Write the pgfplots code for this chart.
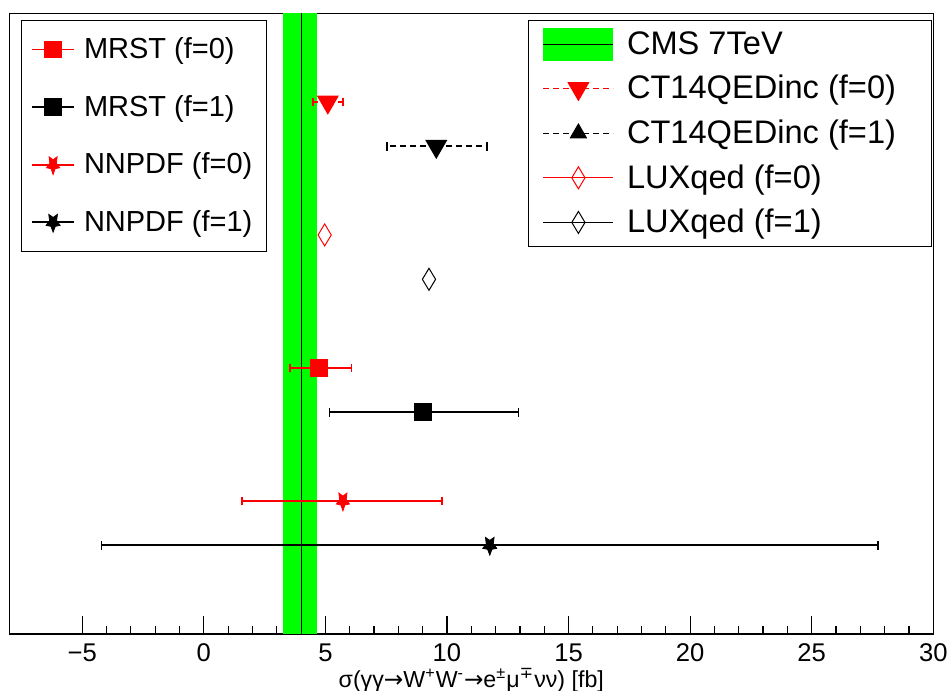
\documentclass[border=0pt]{standalone}
\usepackage{pgfplots}
\pgfplotsset{compat=1.18}
\usepackage{fontspec}
\setmainfont{Liberation Sans}
\newfontfamily\dejavu{DejaVu Sans}
\usetikzlibrary{plotmarks}
\definecolor{cmsgreen}{RGB}{0,255,0}
\pgfdeclareplotmark{invstar}{%
  \pgfpathmoveto{\pgfpointpolar{-90}{\pgfplotmarksize}}%
  \pgfpathlineto{\pgfpointpolar{-54}{0.5\pgfplotmarksize}}%
  \pgfpathlineto{\pgfpointpolar{-18}{\pgfplotmarksize}}%
  \pgfpathlineto{\pgfpointpolar{18}{0.5\pgfplotmarksize}}%
  \pgfpathlineto{\pgfpointpolar{54}{\pgfplotmarksize}}%
  \pgfpathlineto{\pgfpointpolar{90}{0.5\pgfplotmarksize}}%
  \pgfpathlineto{\pgfpointpolar{126}{\pgfplotmarksize}}%
  \pgfpathlineto{\pgfpointpolar{162}{0.5\pgfplotmarksize}}%
  \pgfpathlineto{\pgfpointpolar{198}{\pgfplotmarksize}}%
  \pgfpathlineto{\pgfpointpolar{234}{0.5\pgfplotmarksize}}%
  \pgfpathclose
  \pgfusepathqfillstroke
}
\pgfplotsset{
  common/.style={
    scale only axis, width=462pt, height=310.35pt,
    xmin=-8, xmax=30, ymin=0, ymax=14,
    legend cell align=left,
  },
  xerr/.style={error bars/.cd, x dir=both, x explicit, error mark=|,
    error mark options={mark size=2.2pt, line width=0.9pt},
    error bar style={line width=0.9pt}},
}
\begin{document}
\begin{tikzpicture}
\useasboundingbox (-4.65pt,-28.5pt) rectangle (469.85pt,317pt);
\begin{axis}[common, name=main,
  xtick={-5,0,5,10,15,20,25,30},
  xticklabels={−5,0,5,10,15,20,25,30},
  minor x tick num=4,
  ytick=\empty,
  xtick pos=bottom,
  tick align=inside,
  major tick length=9pt, minor tick length=4.2pt,
  axis line style={line width=0.6pt},
  every tick/.style={black, line width=0.6pt},
  xticklabel style={font=\fontsize{12.8}{14}\selectfont, anchor=base, yshift=-14pt},
  xlabel={σ(γγ{\dejavu →}W\textsuperscript{+}W\textsuperscript{-}{\dejavu →}e\textsuperscript{±}μ\textsuperscript{\dejavu ∓}νν) [fb]},
  xlabel style={at={(axis description cs:0.5,0)}, anchor=base, yshift=-26.8pt, font=\fontsize{11.6}{13}\selectfont},
  legend image code/.code={\draw[mark repeat=2,mark phase=2,#1] plot coordinates {(0pt,0pt) (17.5pt,0pt) (35pt,0pt)};},
  legend style={at={(axis description cs:0.5617,0.9892)}, anchor=north west,
    draw=black, line width=0.5pt, fill=white,
    inner xsep=7pt, inner ysep=3.5pt, row sep=5pt,
    font=\fontsize{16.3}{18}\selectfont,
    /tikz/every odd column/.append style={column sep=4.5pt}},
]
% CMS band
\addplot[fill=cmsgreen, draw=none,
  legend image code/.code={\fill[cmsgreen] (0pt,-8.25pt) rectangle (35pt,8.25pt); \draw[black, line width=0.6pt] (0pt,0pt) -- (35pt,0pt);}]
  coordinates {(3.25,14) (4.67,14)} \closedcycle;
\addlegendentry{\makebox[143pt][l]{CMS 7TeV}}
\addplot[black, line width=0.7pt, forget plot] coordinates {(4.02,0) (4.02,14)};
% CT14QEDinc f=0
\addplot[red, dashed, dash pattern=on 3pt off 2pt, line width=0.6pt, mark=triangle*, mark size=5.8pt,
  mark options={solid, rotate=180},
  xerr, error bar style={dash pattern=on 3pt off 2pt}]
  coordinates {(5.10,12) += (0.62,0) -= (0.61,0)};
\addlegendentry{CT14QEDinc (f=0)}
% CT14QEDinc f=1
\addplot[black, dashed, dash pattern=on 3pt off 2pt, line width=0.6pt, mark=triangle*, mark size=5.8pt,
  mark options={solid, rotate=180}, forget plot,
  xerr, error bar style={dash pattern=on 3pt off 2pt}]
  coordinates {(9.56,11) += (2.09,0) -= (2.03,0)};
\addlegendimage{black, dashed, dash pattern=on 3pt off 2pt, line width=0.6pt, mark=triangle*, mark size=4.5pt, mark options={solid}}
\addlegendentry{CT14QEDinc (f=1)}
% LUXqed
\addplot[red, line width=0.6pt, mark=diamond, mark size=5.5pt, mark options={xscale=0.8, line width=0.5pt}]
  coordinates {(4.97,9)};
\addlegendentry{LUXqed (f=0)}
\addplot[black, line width=0.6pt, mark=diamond, mark size=5.5pt, mark options={xscale=0.8, line width=0.5pt}]
  coordinates {(9.26,8)};
\addlegendentry{LUXqed (f=1)}
\end{axis}
\begin{axis}[common, hide axis,
  legend image code/.code={\draw[mark repeat=2,mark phase=2,#1] plot coordinates {(0pt,0pt) (10.5pt,0pt) (21pt,0pt)};},
  legend style={at={(axis description cs:0.01234,0.9892)}, anchor=north west,
    draw=black, line width=0.5pt, fill=white,
    inner xsep=5pt, inner ysep=6.5pt, row sep=12.8pt,
    font=\fontsize{14.5}{17}\selectfont,
    /tikz/every odd column/.append style={column sep=2.5pt}},
]
\addplot[red, line width=0.9pt, mark=square*, mark size=4pt, mark options={solid}, xerr]
  coordinates {(4.73,6) += (1.34,0) -= (1.17,0)};
\addlegendentry{\makebox[83pt][l]{MRST (f=0)}}
\addplot[black, line width=0.9pt, mark=square*, mark size=4pt, xerr]
  coordinates {(9.01,5) += (3.93,0) -= (3.84,0)};
\addlegendentry{MRST (f=1)}
\addplot[red, line width=0.9pt, mark=invstar, mark size=4.9pt, mark options={xscale=0.7, line width=0.4pt}, xerr]
  coordinates {(5.72,3) += (4.07,0) -= (4.16,0)};
\addlegendentry{NNPDF (f=0)}
\addplot[black, line width=0.9pt, mark=invstar, mark size=4.9pt, mark options={xscale=0.75, line width=0.4pt}, xerr]
  coordinates {(11.76,2) +- (15.97,0)};
\addlegendentry{NNPDF (f=1)}
\end{axis}
\end{tikzpicture}
\end{document}
